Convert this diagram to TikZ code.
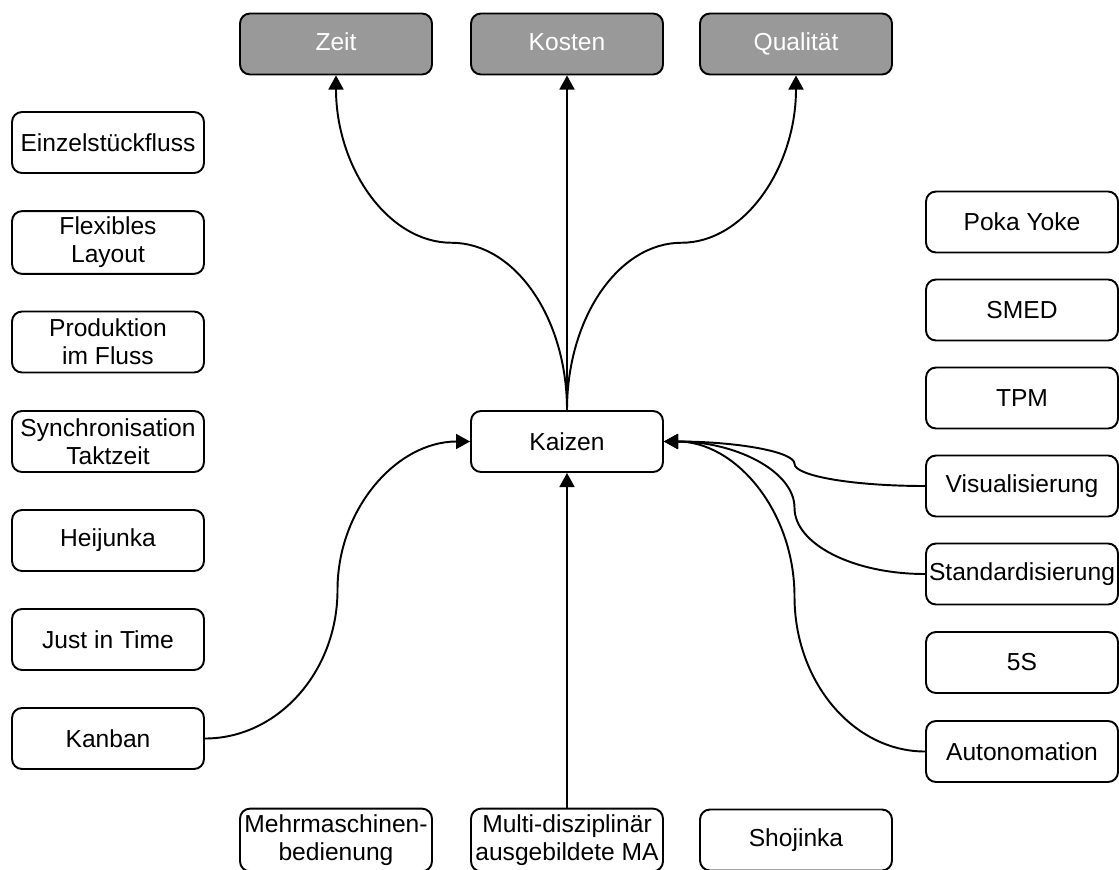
\documentclass[tikz,border=0pt]{standalone}
\usepackage{fontspec}
\setmainfont{Liberation Sans}
\usetikzlibrary{arrows.meta,calc}

\definecolor{goalgray}{RGB}{153,153,153}

\tikzset{
  item/.style={draw=black, line width=1.1pt, rounded corners=0.2cm,
    minimum width=3.84cm, minimum height=1.22cm, inner xsep=1pt,
    align=center, font=\fontsize{14pt}{16pt}\selectfont},
  goal/.style={item, fill=goalgray, text=white, text height=1.9ex, text depth=0.5ex},
  link/.style={line width=1.1pt, -{Triangle[length=8pt,width=8.5pt]}},
}

% curved link: leaves #1 along one axis, bends at the midpoint, enters #2
% #3 is -| (leave horizontally) or |- (leave vertically)
\newcommand{\bentlink}[3]{%
  \coordinate (mid) at ($(#1)!.5!(#2)$);
  \coordinate (c1) at (#1 #3 mid);
  \coordinate (c2) at (#2 #3 mid);
  \draw[link] (#1) .. controls ($(#1)!.55!(c1)$) and ($(mid)!.55!(c1)$) .. (mid)
    .. controls ($(mid)!.55!(c2)$) and ($(#2)!.55!(c2)$) .. (#2);
}

\begin{document}
\begin{tikzpicture}[x=0.02cm,y=0.02cm]
    \useasboundingbox (0,0) rectangle (1119,-869);

    % goals
    \node[goal] (zeit)   at (336,-44) {Zeit};
    \node[goal] (kosten) at (567,-44) {Kosten};
    \node[goal] (qual)   at (796,-44) {Qualität};

    \node[item] (kaizen) at (567,-441.5) {Kaizen};

    % left column
    \node[item] (einzel) at (108,-142.5) {Einzelstückfluss};
    \node[item] (flex)   at (108,-242.5) {Flexibles\\Layout};
    \node[item] (prod)   at (108,-342)   {Produktion\\im Fluss};
    \node[item] (sync)   at (108,-441.5) {Synchronisation\\Taktzeit};
    \node[item] (heij)   at (108,-540.5) {Heijunka};
    \node[item] (jit)    at (108,-639.5) {Just in Time};
    \node[item] (kanban) at (108,-738.5) {Kanban};

    % right column
    \node[item] (poka)   at (1022,-222)   {Poka Yoke};
    \node[item] (smed)   at (1022,-310)   {SMED};
    \node[item] (tpm)    at (1022,-398)   {TPM};
    \node[item] (visual) at (1022,-486)   {Visualisierung};
    \node[item] (stand)  at (1022,-574)   {Standardisierung};
    \node[item] (fives)  at (1022,-662.5) {5S};
    \node[item] (auto)   at (1022,-751.5) {Autonomation};

    % bottom row
    \node[item] (mehr)   at (336,-840) {Mehrmaschinen-\\bedienung};
    \node[item] (multi)  at (567,-840) {Multi-disziplinär\\ausgebildete MA};
    \node[item] (shoj)   at (796,-840) {Shojinka};

    % links
    \bentlink{kaizen.north}{zeit.south}{|-}
    \draw[link] (kaizen.north) -- (kosten.south);
    \bentlink{kaizen.north}{qual.south}{|-}

    \bentlink{kanban.east}{kaizen.west}{-|}
    \draw[link] (multi.north) -- (kaizen.south);

    \bentlink{visual.west}{kaizen.east}{-|}
    \bentlink{stand.west}{kaizen.east}{-|}
    \bentlink{auto.west}{kaizen.east}{-|}
\end{tikzpicture}
\end{document}
